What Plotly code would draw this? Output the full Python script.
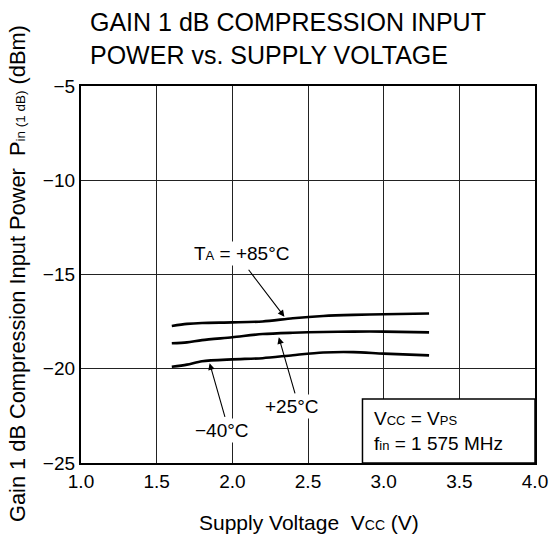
import plotly.graph_objects as go

# ---- data ----
vcc = [1.6, 1.7, 1.8, 2.0, 2.2, 2.4, 2.6, 2.8, 3.0, 3.3]
p_85 = [-17.73, -17.62, -17.57, -17.54, -17.49, -17.32, -17.20, -17.14, -17.11, -17.07]
p_25 = [-18.65, -18.60, -18.48, -18.33, -18.16, -18.09, -18.05, -18.03, -18.03, -18.07]
p_m40 = [-19.89, -19.78, -19.60, -19.50, -19.44, -19.28, -19.14, -19.12, -19.20, -19.29]

x_ticks = [1.0, 1.5, 2.0, 2.5, 3.0, 3.5, 4.0]
y_ticks = [-25, -20, -15, -10, -5]

FONT = "Liberation Sans, Arial, Helvetica, sans-serif"

fig = go.Figure()
for ys in (p_85, p_25, p_m40):
    fig.add_trace(go.Scatter(x=vcc, y=ys, mode="lines", line=dict(color="black", width=2.6, shape="spline", smoothing=0.8),
                             showlegend=False, hoverinfo="skip"))

fig.update_layout(
    width=550, height=543,
    margin=dict(l=81, r=15, t=86, b=80),
    paper_bgcolor="white", plot_bgcolor="white",
    font=dict(family=FONT, color="black", size=18),
    showlegend=False,
)
fig.update_xaxes(range=[1.0, 4.0], tickvals=x_ticks, ticktext=[f"{v:.1f}" for v in x_ticks],
                 showgrid=True, gridcolor="#222", gridwidth=1, zeroline=False,
                 showline=True, linecolor="black", linewidth=2.2, mirror=True,
                 ticks="", tickfont=dict(size=19), automargin=False)
fig.update_yaxes(range=[-25, -5], tickvals=y_ticks, ticktext=[f"\u2212{abs(v)}" for v in y_ticks],
                 showgrid=True, gridcolor="#222", gridwidth=1, zeroline=False,
                 showline=True, linecolor="black", linewidth=2.2, mirror=True,
                 ticks="", tickfont=dict(size=19), automargin=False)

# condition box
fig.add_shape(type="rect", xref="x", yref="y", x0=2.86, x1=4.0, y0=-25, y1=-21.6,
              fillcolor="white", line=dict(color="black", width=1.5), layer="above")

small = "<span style='font-size:13px'>{}</span>"
fig.add_annotation(xref="x", yref="y", x=2.92, y=-23.3, xanchor="left", yanchor="middle",
                   text="V" + small.format("CC") + " = V" + small.format("PS") + "<br>f" + small.format("in") + " = 1 575 MHz",
                   align="left", showarrow=False, font=dict(size=19))

# arrows
arrows = [
    # (head x, head y, tail x, tail y)
    (2.344, -17.24, 2.10, -14.67),
    (2.307, -18.33, 2.417, -21.39),
    (1.85, -19.71, 1.954, -22.63),
]
for hx, hy, tx, ty in arrows:
    fig.add_annotation(xref="x", yref="y", x=hx, y=hy, ax=tx, ay=ty, axref="x", ayref="y",
                       text="", showarrow=True, arrowhead=2, arrowsize=1.2, arrowwidth=1.1, arrowcolor="black")

# curve labels
labels = [
    (2.06, -13.86, "T" + small.format("A") + " = +85°C"),
    (2.395, -21.98, "+25°C"),
    (1.934, -23.29, "\u221240°C"),
]
for lx, ly, t in labels:
    fig.add_annotation(xref="x", yref="y", x=lx, y=ly, text=t, showarrow=False,
                       bgcolor="white", font=dict(size=19), borderpad=1)

# title
fig.add_annotation(xref="paper", yref="paper", x=(88 - 81) / 454, y=1 + (86 - 6) / 377,
                   xanchor="left", yanchor="top", align="left", showarrow=False,
                   text="GAIN 1 dB COMPRESSION INPUT<br>POWER vs. SUPPLY VOLTAGE", font=dict(size=25))

# axis titles
fig.add_annotation(xref="paper", yref="paper", x=(309 - 81) / 454, y=-(522 - 463) / 377,
                   xanchor="center", yanchor="middle", showarrow=False,
                   text="Supply Voltage  V<span style='font-size:14px'>CC</span> (V)", font=dict(size=21))
fig.add_annotation(xref="paper", yref="paper", x=-(81 - 17) / 454, y=(463 - 274) / 377,
                   xanchor="center", yanchor="middle", showarrow=False, textangle=-90,
                   text="Gain 1 dB Compression Input Power  P" + "<span style='font-size:13.5px'>in (1 dB)</span>" + " (dBm)",
                   font=dict(size=21.8))

fig.write_html("out.html", config={"displayModeBar": False},
               post_script="document.body.style.margin='0';document.body.style.padding='0';")
